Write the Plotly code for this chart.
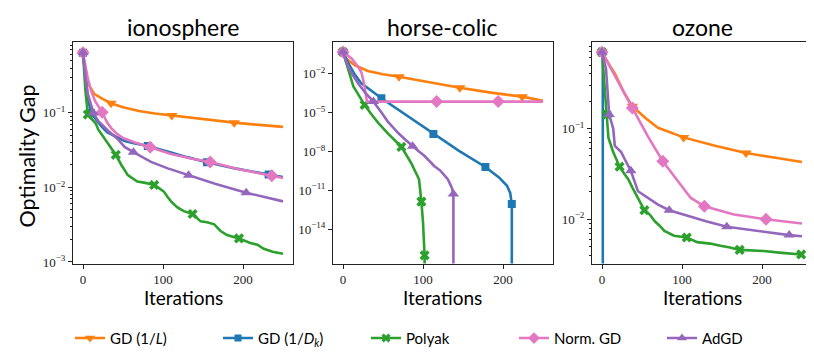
import plotly.graph_objects as go

W, H = 814, 353

NAMES = ["GD (1/<i>L</i>)", "GD (1/<i>D<sub>k</sub></i>)", "Polyak", "Norm. GD", "AdGD"]
COLORS = ["#ff7f0e", "#1f77b4", "#2ca02c", "#e377c2", "#9467bd"]
SYMBOLS = ["triangle-down", "square", "x", "diamond", "triangle-up"]
SIZES = [10, 8, 9, 10, 10]

DATASETS = ["ionosphere", "horse-colic", "ozone"]

# value used for iterates whose gap is exactly zero (drawn off the bottom of the log axis)
ZERO = 1e-30

# ---- ionosphere ----
iono_orange_it = [0, 2, 6, 14, 25, 35, 50, 70, 90, 111, 140, 165, 189, 220, 250]
iono_orange = [0.64, 0.40, 0.25, 0.18, 0.153, 0.135, 0.119, 0.106, 0.098, 0.092, 0.085, 0.079, 0.074, 0.069, 0.065]
iono_orange_mk = [0, 35, 111, 189]

iono_blue_it = [0, 3, 6, 10, 15, 22, 30, 42, 52, 65, 81, 110, 130, 155, 190, 232, 250]
iono_blue = [0.64, 0.3, 0.16, 0.1, 0.085, 0.068, 0.055, 0.047, 0.042, 0.039, 0.036, 0.0295, 0.0255, 0.0218, 0.018, 0.0149, 0.0138]
iono_blue_mk = [0, 10, 81, 155, 232]

iono_green_it = [0, 3, 6, 12, 16, 19, 23, 27, 33, 41, 48, 56, 62, 68, 78, 89, 95, 101, 106, 110, 118, 126, 137,
                 147, 155, 164, 172, 180, 195, 209, 218, 226, 237, 250]
iono_green = [0.64, 0.2, 0.095, 0.082, 0.072, 0.06, 0.052, 0.045, 0.036, 0.0274, 0.02, 0.0146, 0.0132, 0.012,
              0.0115, 0.0108, 0.0098, 0.0088, 0.0074, 0.0065, 0.0054, 0.0048, 0.0044, 0.0035, 0.0034, 0.0032,
              0.0026, 0.0023, 0.00207, 0.0018, 0.0017, 0.0015, 0.00137, 0.00129]
iono_green_mk = [6, 41, 89, 137, 195]

iono_pink_it = [0, 3, 6, 10, 15, 24, 30, 35, 42, 50, 65, 84, 110, 135, 159, 195, 236, 250]
iono_pink = [0.64, 0.42, 0.29, 0.2, 0.145, 0.102, 0.075, 0.063, 0.053, 0.046, 0.040, 0.0347, 0.028, 0.0245,
             0.0219, 0.0175, 0.0143, 0.0134]
iono_pink_mk = [0, 24, 84, 159, 236]

iono_purple_it = [0, 3, 6, 13, 19, 31, 43, 52, 63, 85, 106, 132, 165, 204, 230, 250]
iono_purple = [0.64, 0.3, 0.18, 0.1, 0.078, 0.058, 0.045, 0.035, 0.0297, 0.022, 0.018, 0.0146, 0.0112, 0.0085,
               0.0074, 0.0065]
iono_purple_mk = [0, 13, 63, 132, 204]

# ---- horse-colic ----
horse_orange_it = [0, 3, 7, 15, 31, 50, 70, 100, 146, 185, 224, 250]
horse_orange = [0.457, 0.178, 0.1, 0.0437, 0.0158, 0.0089, 0.0056, 0.0025, 8.1e-4, 3.4e-4, 1.66e-4, 7.9e-5]
horse_orange_mk = [0, 70, 146, 224]

horse_blue_it = [0, 7, 15, 23, 48, 80, 113, 145, 178, 195, 205, 209, 211, 211]
horse_blue = [0.457, 0.0575, 7.9e-3, 1.74e-3, 1.26e-4, 5.6e-6, 2.24e-7, 1.12e-8, 6.3e-10, 1e-10, 2.24e-11,
              6.3e-12, 8.9e-13, ZERO]
horse_blue_mk = [0, 48, 113, 178, 211]

horse_green_it = [0, 4, 7, 13, 20, 27, 35, 44, 56, 69, 73, 85, 95, 98, 100, 102, 102]
horse_green = [0.457, 0.063, 0.018, 1e-3, 2e-4, 3.9e-5, 7.9e-6, 1.6e-6, 2.5e-7, 3.5e-8, 2.24e-8, 1.35e-9,
               7.2e-11, 1.35e-12, 3.5e-14, 1e-16, ZERO]
horse_green_mk = [0, 27, 73, 98, 102]

horse_pink_it = [0, 5, 11, 19, 23, 26, 28, 30, 117, 194, 250]
horse_pink = [0.457, 0.28, 0.138, 0.0316, 0.0126, 2e-3, 4e-4, 6.9e-5, 6.9e-5, 6.9e-5, 6.9e-5]
horse_pink_mk = [0, 117, 194]

horse_purple_it = [0, 4, 10, 19, 28, 38, 47, 56, 62, 69, 78, 87, 95, 102, 108, 114, 122, 131, 136, 138, 138]
horse_purple = [0.457, 0.079, 0.0126, 1.74e-3, 3.2e-4, 6.9e-5, 1.26e-5, 2e-6, 7.9e-7, 2.6e-7, 7.9e-8, 2.5e-8,
                1e-8, 4.4e-9, 2e-9, 7.6e-10, 3.2e-10, 7.2e-11, 1.6e-11, 5.2e-12, ZERO]
horse_purple_mk = [0, 38, 87, 138]

# ---- ozone ----
ozone_orange_it = [0, 5, 10, 16, 28, 38, 55, 70, 102, 140, 180, 215, 250]
ozone_orange = [0.695, 0.575, 0.49, 0.405, 0.245, 0.176, 0.129, 0.102, 0.08, 0.065, 0.0537, 0.0479, 0.0428]
ozone_orange_mk = [0, 38, 102, 180]

ozone_blue_it = [0, 1, 1]
ozone_blue = [0.695, 0.695, ZERO]
ozone_blue_mk = [0]

ozone_green_it = [0, 2, 4, 6, 8, 14, 22, 28, 33, 38, 45, 53, 60, 66, 72, 78, 90, 106, 119, 135, 148, 160, 172,
                  185, 202, 225, 249]
ozone_green = [0.695, 0.398, 0.2, 0.143, 0.0794, 0.055, 0.038, 0.0316, 0.0275, 0.0224, 0.0172, 0.0126, 0.0112,
               0.0095, 0.0085, 0.00746, 0.0066, 0.0063, 0.0056, 0.0054, 0.0051, 0.0049, 0.0046, 0.00457,
               0.00447, 0.00427, 0.0041]
ozone_green_mk = [0, 6, 22, 53, 106, 172, 249]

ozone_pink_it = [0, 10, 20, 30, 38, 57, 76, 98, 111, 128, 165, 205, 250]
ozone_pink = [0.695, 0.479, 0.331, 0.229, 0.169, 0.083, 0.0436, 0.024, 0.0172, 0.0139, 0.0113, 0.0100, 0.0090]
ozone_pink_mk = [0, 38, 76, 128, 205]

ozone_purple_it = [0, 5, 9, 14, 16, 24, 28, 36, 45, 57, 70, 84, 110, 130, 156, 195, 234, 250]
ozone_purple = [0.695, 0.457, 0.143, 0.1, 0.0646, 0.055, 0.0468, 0.0342, 0.0204, 0.0172, 0.0145, 0.0126,
                0.0107, 0.0095, 0.00826, 0.0074, 0.0067, 0.0065]
ozone_purple_mk = [0, 9, 36, 84, 156, 234]

SERIES = [
    [(iono_orange_it, iono_orange, iono_orange_mk), (iono_blue_it, iono_blue, iono_blue_mk),
     (iono_green_it, iono_green, iono_green_mk), (iono_pink_it, iono_pink, iono_pink_mk),
     (iono_purple_it, iono_purple, iono_purple_mk)],
    [(horse_orange_it, horse_orange, horse_orange_mk), (horse_blue_it, horse_blue, horse_blue_mk),
     (horse_green_it, horse_green, horse_green_mk), (horse_pink_it, horse_pink, horse_pink_mk),
     (horse_purple_it, horse_purple, horse_purple_mk)],
    [(ozone_orange_it, ozone_orange, ozone_orange_mk), (ozone_blue_it, ozone_blue, ozone_blue_mk),
     (ozone_green_it, ozone_green, ozone_green_mk), (ozone_pink_it, ozone_pink, ozone_pink_mk),
     (ozone_purple_it, ozone_purple, ozone_purple_mk)],
]

# y tick setup per panel (major decades shown, minor decades multipliers)
Y_MAJOR = [[-3, -2, -1], [-14, -11, -8, -5, -2], [-2, -1]]
Y_RANGE = [[-3.022, -0.054], [-16.64, 0.40], [-2.488, -0.05]]
Y_MINOR = [True, False, True]

# panel boxes in pixels (left, right) and shared top/bottom
PANEL_X = [(65, 285), (325, 545), (584, 804)]
TOP, BOTTOM = 35, 260

SERIF = "Liberation Serif"
SANS = "Lato"
AXCOL = "#222222"

fig = go.Figure()

for p in range(3):
    xa = "x" if p == 0 else f"x{p + 1}"
    ya = "y" if p == 0 else f"y{p + 1}"
    for s, (its, vals, mk) in enumerate(SERIES[p]):
        fig.add_trace(go.Scatter(
            x=its, y=vals, mode="lines", xaxis=xa, yaxis=ya, showlegend=False,
            line=dict(color=COLORS[s], width=2.6), hoverinfo="skip"))
        my = [vals[its.index(m)] for m in mk]
        fig.add_trace(go.Scatter(
            x=mk, y=my, mode="markers", xaxis=xa, yaxis=ya, showlegend=False,
            marker=dict(color=COLORS[s], symbol=SYMBOLS[s], size=SIZES[s], line=dict(width=0)),
            hoverinfo="skip"))

# legend entries
for s in range(5):
    fig.add_trace(go.Scatter(
        x=[None], y=[None], mode="lines+markers", name=NAMES[s],
        line=dict(color=COLORS[s], width=2.6),
        marker=dict(color=COLORS[s], symbol=SYMBOLS[s], size=SIZES[s] - 1, line=dict(width=0))))

layout = dict(
    width=W, height=H,
    margin=dict(l=0, r=0, t=0, b=0),
    paper_bgcolor="white", plot_bgcolor="white",
    font=dict(family=SANS, color="black"),
    showlegend=True,
    legend=dict(orientation="h", x=62 / W, xanchor="left", y=1 - 336 / H, yanchor="middle",
                font=dict(family=SANS, size=15), itemwidth=30, entrywidth=103, entrywidthmode="pixels",
                tracegroupgap=0),
)

annotations = []
for p in range(3):
    xl, xr = PANEL_X[p]
    key = "" if p == 0 else str(p + 1)
    minor_vals = []
    if Y_MINOR[p]:
        lo, hi = Y_RANGE[p]
        for d in range(int(lo) - 1, int(hi) + 1):
            for m in range(2, 10):
                minor_vals.append(m * 10 ** d)
    layout["xaxis" + key] = dict(
        domain=[xl / W, xr / W], anchor="y" + key, range=[-12.5, 262.5],
        tickvals=[0, 100, 200], ticks="outside", ticklen=4, tickcolor=AXCOL,
        showline=True, linecolor=AXCOL, linewidth=1, mirror=True, showgrid=False, zeroline=False,
        tickfont=dict(family=SERIF, size=13, color="#222"))
    layout["yaxis" + key] = dict(
        domain=[1 - BOTTOM / H, 1 - TOP / H], anchor="x" + key, type="log", range=Y_RANGE[p],
        tickvals=[10 ** d for d in Y_MAJOR[p]],
        ticktext=[f"10<sup>\u2212{-d}</sup>" for d in Y_MAJOR[p]],
        ticks="outside", ticklen=4, tickcolor=AXCOL,
        showline=True, linecolor=AXCOL, linewidth=1, mirror=True, showgrid=False, zeroline=False,
        tickfont=dict(family=SERIF, size=13, color="#222"),
        minor=dict(tickvals=minor_vals, ticks="outside", ticklen=2, tickcolor=AXCOL, showgrid=False))
    cx = (xl + xr) / 2 / W
    annotations.append(dict(text=DATASETS[p], x=cx, y=1 - 19 / H, xref="paper", yref="paper",
                            showarrow=False, font=dict(family=SANS, size=23, color="black"),
                            xanchor="center", yanchor="middle"))
    annotations.append(dict(text="Iterations", x=cx, y=1 - 295 / H, xref="paper", yref="paper",
                            showarrow=False, font=dict(family=SANS, size=19, color="black"),
                            xanchor="center", yanchor="middle"))

annotations.append(dict(text="Optimality Gap", x=19 / W, y=1 - 151 / H, xref="paper", yref="paper",
                        showarrow=False, textangle=-90, font=dict(family=SANS, size=21.5, color="black"),
                        xanchor="center", yanchor="middle"))
layout["annotations"] = annotations

fig.update_layout(**layout)
fig.write_html("out.html")
